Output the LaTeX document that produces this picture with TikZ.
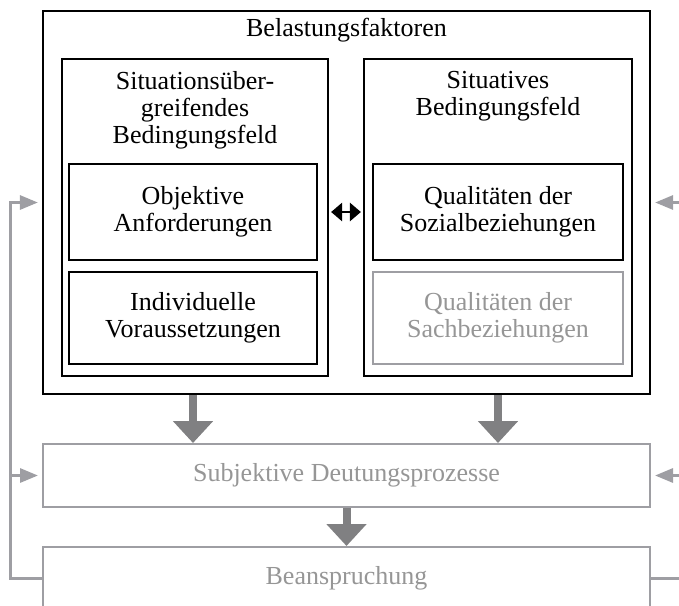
\documentclass[tikz,border=0pt]{standalone}
\usepackage{fontspec}
\setmainfont{Liberation Serif}
\usetikzlibrary{arrows.meta}
\definecolor{lightline}{RGB}{158,158,163}
\definecolor{arrowgray}{RGB}{128,128,130}
\definecolor{lighttext}{RGB}{150,150,150}

\begin{document}
\begin{tikzpicture}[x=0.5pt, y=-0.5pt,
	font=\fontsize{13}{13.5}\selectfont,
	blackbox/.style={shape=rectangle, draw=black, line width=1.1pt, align=center},
	graybox/.style={shape=rectangle, draw=lightline, line width=1pt, text=lighttext, align=center},
	headtext/.style={align=center, inner sep=0pt},
	bigarrow/.style={draw=arrowgray, line width=4pt, -{Triangle[width=19.5pt, length=11pt]}},
	fback/.style={draw=lightline, line width=1.5pt, -{Triangle[width=7pt, length=9pt]}, shorten >=2pt},
	both/.style={draw=black, line width=1.3pt, {Triangle[width=9pt, length=5.5pt]}-{Triangle[width=9pt, length=5.5pt]}, shorten <=1pt, shorten >=1pt}]

	\useasboundingbox (0,0) rectangle (679,605);
	\clip (0,0) rectangle (679,605);

	\node[blackbox, minimum width=303.5pt, minimum height=191.5pt] (belast) at (346.5, 202.5) {};
	\node[headtext] (belasttxt) at (346.5, 30) {Belastungsfaktoren};

	\node[blackbox, minimum width=133pt, minimum height=158.5pt] (situb) at (195, 217.5) {};
	\node[headtext] (situbtxt) at (195, 110) {Situationsüber-\\greifendes\\Bedingungsfeld};
	\node[blackbox, minimum width=134pt, minimum height=158.5pt] (situa) at (498, 217.5) {};
	\node[headtext] (situatxt) at (498, 96.5) {Situatives\\Bedingungsfeld};

	\node[blackbox, minimum width=124pt, minimum height=48pt] (objektiv) at (193, 212) {Objektive\\Anforderungen};
	\node[blackbox, minimum width=124pt, minimum height=46pt] (individ) at (193, 318) {Individuelle\\Voraussetzungen};
	\node[blackbox, minimum width=125pt, minimum height=48pt] (sozial) at (498, 212) {Qualitäten der\\Sozialbeziehungen};
	\node[graybox, minimum width=125pt, minimum height=46pt] (sach) at (498, 318) {Qualitäten der\\Sachbeziehungen};

	\node[graybox, minimum width=303.5pt, minimum height=31.5pt] (deutung) at (346.5, 475.5) {Subjektive Deutungsprozesse};
	\node[graybox, minimum width=303.5pt, minimum height=31.5pt] (beansp) at (346.5, 578.5) {Beanspruchung};

	\coordinate (fl) at (10, 202.5);
	\coordinate (fr) at (710, 202.5);

	\draw[both] (situb.east |- objektiv) -- (situa.west |- objektiv);

	\draw[bigarrow] (belast.south -| objektiv) -- (deutung.north -| objektiv);
	\draw[bigarrow] (belast.south -| sozial) -- (deutung.north -| sozial);
	\draw[bigarrow] (deutung) -- (beansp);

	\draw[fback] (beansp.west) -| (fl) -- (belast.west);
	\draw[fback] (deutung.west -| fl) -- (deutung.west);
	\draw[fback] (beansp.east) -| (fr) -- (belast.east);
	\draw[fback] (deutung.east -| fr) -- (deutung.east);
\end{tikzpicture}
\end{document}
